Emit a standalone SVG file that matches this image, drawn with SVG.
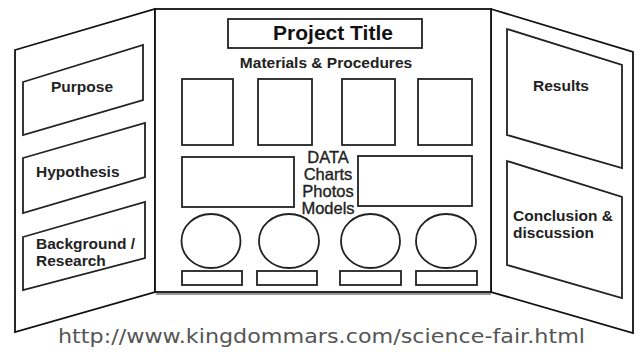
<svg xmlns="http://www.w3.org/2000/svg" width="641" height="352" viewBox="0 0 641 352">
<style>
.ln{fill:#fff;stroke:#111;stroke-width:1.8;stroke-linejoin:miter}
.bx{fill:none;stroke:#222;stroke-width:1.8}
.lb{font-family:"Liberation Sans",Arial,sans-serif;font-weight:bold;font-size:15.5px;fill:#222}
.dt{font-family:"Liberation Sans",Arial,sans-serif;font-size:16.5px;fill:#222;stroke:#222;stroke-width:0.35;text-anchor:middle}
.url{font-family:"DejaVu Sans",sans-serif;font-size:20px;fill:#555}
</style>
<rect width="641" height="352" fill="#fff"/>
<g id="left-panel">
<polygon class="ln" points="15,50 155,9 155,292 15,332"/>
</g>
<g id="right-panel">
<polygon class="ln" points="491,9 633,52 633,333 491,292"/>
</g>
<g id="center-board">
<line x1="156" y1="294" x2="491" y2="294" stroke="#999" stroke-width="2"/>
<rect class="ln" x="155" y="9" width="336" height="283"/>
</g>
<g id="purpose">
<polygon class="bx" points="23,82 143,45 143,100 23,135"/>
<text class="lb" x="82" y="92" text-anchor="middle">Purpose</text>
</g>
<g id="hypothesis">
<polygon class="bx" points="23,158 145,123 145,177 23,213"/>
<text class="lb" x="36" y="177">Hypothesis</text>
</g>
<g id="background">
<polygon class="bx" points="23,237 145,202 145,258 23,290"/>
<text class="lb" x="36" y="249">Background /</text>
<text class="lb" x="36" y="266">Research</text>
</g>
<g id="results">
<polygon class="bx" points="507,29 622,65 622,168 507,135"/>
<text class="lb" x="561" y="91" text-anchor="middle">Results</text>
</g>
<g id="conclusion">
<polygon class="bx" points="507,161 622,197 622,298 507,265"/>
<text class="lb" x="513" y="221">Conclusion &amp;</text>
<text class="lb" x="513" y="238">discussion</text>
</g>
<g id="project-title">
<rect class="bx" x="228" y="19" width="194" height="29"/>
<text x="333" y="40" text-anchor="middle" font-family="Liberation Sans,Arial,sans-serif" font-weight="bold" font-size="21" fill="#111">Project Title</text>
</g>
<g id="materials">
<text class="lb" x="326" y="68" text-anchor="middle">Materials &amp; Procedures</text>
</g>
<g id="procedure-boxes">
<rect class="bx" x="182" y="79" width="51" height="66"/>
<rect class="bx" x="258" y="79" width="54" height="66"/>
<rect class="bx" x="342" y="79" width="53" height="66"/>
<rect class="bx" x="418" y="79" width="54" height="66"/>
</g>
<g id="data-boxes">
<rect class="bx" x="182" y="157" width="112" height="50"/>
<rect class="bx" x="358" y="156" width="114" height="50"/>
</g>
<g id="data-label">
<text class="dt" x="328" y="163">DATA</text>
<text class="dt" x="328" y="180">Charts</text>
<text class="dt" x="328" y="197">Photos</text>
<text class="dt" x="328" y="214">Models</text>
</g>
<g id="model-circles">
<ellipse class="bx" cx="211" cy="241" rx="29.5" ry="27"/>
<ellipse class="bx" cx="289" cy="241" rx="30" ry="27"/>
<ellipse class="bx" cx="370.5" cy="241" rx="29.5" ry="27"/>
<ellipse class="bx" cx="446" cy="241" rx="30" ry="27"/>
</g>
<g id="caption-boxes">
<rect class="bx" x="182" y="271" width="60" height="14"/>
<rect class="bx" x="257" y="271" width="60" height="14"/>
<rect class="bx" x="340" y="271" width="61" height="14"/>
<rect class="bx" x="416" y="271" width="61" height="14"/>
</g>
<g id="connectors"></g>
<text class="url" x="58" y="343" textLength="527" lengthAdjust="spacingAndGlyphs">http://www.kingdommars.com/science-fair.html</text>
</svg>
